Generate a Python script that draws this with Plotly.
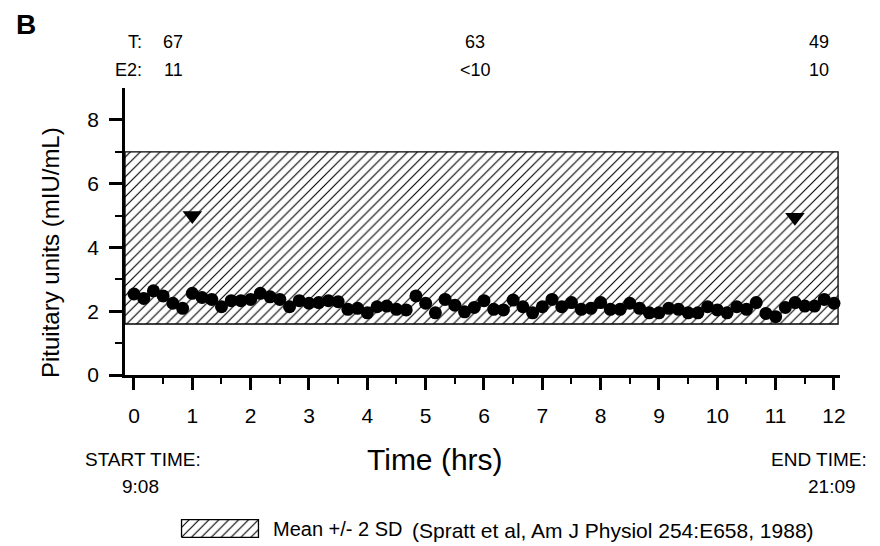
import plotly.graph_objects as go

# ---------------- data ----------------
sample_minutes = list(range(0, 721, 10))          # 10-min sampling, 0..12 h
pituitary_units = [
    2.54, 2.40, 2.64, 2.48, 2.25, 2.09, 2.56, 2.43, 2.37, 2.14, 2.33, 2.33,
    2.37, 2.56, 2.45, 2.37, 2.14, 2.33,
    2.25, 2.27, 2.33, 2.30, 2.06, 2.09, 1.95, 2.14, 2.16, 2.06, 2.04, 2.48,
    2.25, 1.95, 2.37, 2.19, 1.98, 2.12, 2.33,
    2.06, 2.04, 2.35, 2.14, 1.95, 2.14, 2.37, 2.14, 2.27, 2.06, 2.09, 2.27,
    2.06, 2.06, 2.25, 2.09, 1.95, 1.95,
    2.09, 2.06, 1.95, 1.95, 2.14, 2.04, 1.95, 2.14, 2.06, 2.27, 1.93, 1.83,
    2.12, 2.27, 2.16, 2.16, 2.37, 2.25,
]
band_low, band_high = 1.6, 7.0                      # mean +/- 2 SD
marker_hours = [1.0, 11.33]
marker_values = [5.0, 4.95]
x_tick_vals = list(range(0, 13))
y_tick_vals = [0, 2, 4, 6, 8]
y_minor_vals = [1, 3, 5, 7]
hormone_hours = [0.67, 5.85, 11.75]
t_labels = ["67", "63", "49"]
e2_labels = ["11", "<10", "10"]

# ---------------- layout helpers ----------------
W, H = 880, 546
OFF = 8          # page body margin of the browser
FONT = "Arial, Liberation Sans, sans-serif"


def px(x):
    return (x - OFF) / W


def py(y):
    return 1 - (y - OFF) / H


XR = [-0.154, 12.103]
YR = [0, 9]
BAND_X1 = 12.07

hatch = dict(shape="/", size=7, solidity=0.16, fgcolor="black",
             bgcolor="white", fillmode="replace")

fig = go.Figure()

# hatched normal range band
fig.add_trace(go.Scatter(
    x=[XR[0], BAND_X1, BAND_X1, XR[0], XR[0]],
    y=[band_low, band_low, band_high, band_high, band_low],
    mode="lines", fill="toself", fillcolor="white", fillpattern=hatch,
    line=dict(color="black", width=1.3), hoverinfo="skip", showlegend=False,
))

# data points
fig.add_trace(go.Scatter(
    x=[m / 60 for m in sample_minutes], y=pituitary_units,
    mode="markers", marker=dict(size=13, color="black"),
    showlegend=False, cliponaxis=False,
))

# triangles
fig.add_trace(go.Scatter(
    x=marker_hours, y=marker_values, mode="markers",
    marker=dict(symbol="triangle-down", size=17, color="black"),
    showlegend=False,
))

# legend swatch on its own little axes
fig.add_trace(go.Scatter(
    x=[0, 1, 1, 0, 0], y=[0, 0, 1, 1, 0], xaxis="x2", yaxis="y2",
    mode="lines", fill="toself", fillcolor="white", fillpattern=hatch,
    line=dict(color="black", width=1.3), hoverinfo="skip", showlegend=False,
))

axis_font = dict(family=FONT, size=21, color="black")

fig.update_layout(
    width=W, height=H, autosize=False,
    margin=dict(l=0, r=0, t=0, b=0),
    paper_bgcolor="white", plot_bgcolor="white",
    font=dict(family=FONT, color="black"),
    xaxis=dict(
        domain=[px(125), px(840)], range=XR, anchor="y",
        showline=True, linecolor="black", linewidth=2.5,
        ticks="outside", ticklen=12, tickwidth=2.5, tickcolor="black",
        tickmode="array", tickvals=x_tick_vals,
        minor=dict(dtick=0.5, tick0=0, ticks="outside", ticklen=6,
                   tickwidth=2, tickcolor="black"),
        showgrid=False, zeroline=False, tickfont=axis_font,
        ticklabelstandoff=8, automargin=False, fixedrange=True,
    ),
    yaxis=dict(
        domain=[py(375), py(88)], range=YR, anchor="x",
        showline=True, linecolor="black", linewidth=2.5,
        ticks="outside", ticklen=13, tickwidth=2.5, tickcolor="black",
        tickmode="array", tickvals=y_tick_vals,
        minor=dict(tickmode="array", tickvals=y_minor_vals, ticks="outside",
                   ticklen=7, tickwidth=2, tickcolor="black"),
        showgrid=False, zeroline=False, tickfont=axis_font,
        ticklabelstandoff=6, automargin=False, fixedrange=True,
    ),
    xaxis2=dict(domain=[px(180), px(260)], range=[-0.02, 1.02], anchor="y2",
                visible=False, fixedrange=True),
    yaxis2=dict(domain=[py(538), py(519)], range=[-0.04, 1.04], anchor="x2",
                visible=False, fixedrange=True),
)

ann = []


def add_text(text, x, y, size, xanchor="center", xref="paper", bold=False,
             angle=0, yanchor="middle"):
    ann.append(dict(
        text=f"<b>{text}</b>" if bold else text,
        x=x, y=y, xref=xref, yref="paper", xanchor=xanchor, yanchor=yanchor,
        showarrow=False, textangle=angle, borderpad=0,
        font=dict(family=FONT, size=size, color="black"),
    ))


add_text("B", px(26), 1.0, 28, bold=True, yanchor="top")
add_text("T:", px(143), py(42), 18, xanchor="right")
add_text("E2:", px(143), py(70), 18, xanchor="right")
for hh, tl, el in zip(hormone_hours, t_labels, e2_labels):
    add_text(tl, hh, py(42), 18, xref="x")
    add_text(el, hh, py(70), 18, xref="x")

add_text("Pituitary units (mIU/mL)", px(51), py(253), 24, angle=-90)
add_text("Time (hrs)", px(435), py(460), 30)
add_text("START TIME:", px(143), py(460), 19)
add_text("9:08", px(140), py(486), 19)
add_text("END TIME:", px(819), py(460), 19)
add_text("21:09", px(832), py(486), 19)
add_text("Mean +/- 2 SD", px(272), py(529), 20, xanchor="left")
add_text("(Spratt et al, Am J Physiol 254:E658, 1988)", px(411), py(530), 21,
         xanchor="left")

fig.update_layout(annotations=ann)

fig.write_html("out.html")
